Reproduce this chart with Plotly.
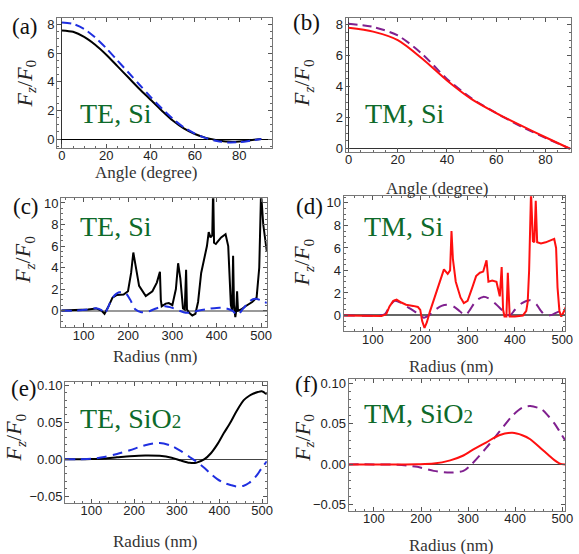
import plotly.graph_objects as go

W, H = 579, 554

# ---------------- data ----------------
angle = [0, 5, 10, 15, 20, 25, 30, 35, 40, 45, 50, 55, 60, 65, 70, 75, 80, 85, 90]
a_te_solid = [7.6, 7.5, 7.15, 6.6, 5.9, 5.1, 4.3, 3.5, 2.75, 2.0, 1.3, 0.75, 0.35, 0.08, -0.08, -0.18, -0.17, -0.08, 0.0]
a_te_dash = [8.15, 8.05, 7.7, 7.1, 6.35, 5.5, 4.65, 3.8, 2.95, 2.15, 1.42, 0.82, 0.38, 0.06, -0.14, -0.24, -0.22, -0.12, 0.0]

angle_b = [0, 10, 20, 30, 40, 50, 60, 70, 80, 90]
b_tm_solid = [7.8, 7.55, 7.0, 5.8, 4.4, 3.2, 2.3, 1.5, 0.74, 0.0]
b_tm_dash = [8.05, 7.85, 7.3, 6.1, 4.5, 3.25, 2.3, 1.45, 0.7, 0.0]

c_r_solid = [50, 80, 110, 128, 140, 147, 155, 165, 175, 190, 200, 207, 212, 217, 225, 240, 255, 265, 272, 274, 276,
             285, 292, 300, 308, 313, 318, 324, 328, 331, 333, 338, 345, 352, 358, 365, 372, 378, 382, 386, 390, 392,
             394, 398, 410, 420, 426, 430, 432, 435, 437, 439, 442, 444, 446, 448, 455, 465, 480, 490, 496, 500, 505, 513]
c_te_solid = [0, 0.02, 0.1, 0.2, 0.0, -0.3, 0.3, 1.2, 1.45, 1.5, 1.8, 3.5, 5.4, 4.2, 2.3, 1.35, 1.8, 2.6, 3.6, 1.0, 0.4,
              0.65, 0.7, 0.5, 2.0, 4.4, 3.0, 0.2, 0.1, 3.8, 0.1, -0.2, -0.45, -0.3, 0.8, 3.5, 4.8, 6.0, 7.3, 6.8, 7.0, 11.5,
              6.3, 6.2, 6.8, 7.1, 6.0, 3.0, 0.5, 0.0, 5.1, 0.5, -0.6, 0.0, 1.8, 0.0, 0.1, 0.4, 0.8, 1.2, 4.0, 11.0, 8.0, 5.5]
c_r_dash = [50, 80, 110, 128, 140, 147, 155, 165, 180, 195, 205, 217, 230, 245, 260, 283, 300, 315, 330, 345, 360,
            380, 400, 420, 435, 447, 460, 475, 487, 500, 513]
c_te_dash = [0, 0, 0.1, 0.22, 0.05, -0.3, 0.3, 1.2, 1.7, 1.6, 1.0, 0.1, -0.15, -0.1, 0.15, 0.4, 0.25, 0.0, -0.2, -0.15, 0.0,
             0.15, 0.25, 0.22, 0.0, -0.4, 0.2, 0.9, 1.1, 0.95, 0.7]

d_r_solid = [38, 100, 118, 128, 135, 143, 150, 160, 170, 185, 195, 200, 204, 209, 214, 220, 230, 240, 250, 258, 263, 266,
             269, 275, 285, 292, 300, 310, 318, 326, 333, 340, 344, 352, 361, 368, 372, 375, 378, 382, 385, 389, 400, 417,
             424, 427, 430, 434, 438, 441, 444, 447, 455, 465, 475, 483, 487, 490, 494, 498, 503, 508]
d_tm_solid = [0, 0, -0.05, 0.1, 0.8, 1.3, 1.4, 1.15, 0.95, 0.85, 0.75, 0.5, -0.5, -1.1, -0.6, 0.3, 1.6, 3.0, 4.1, 3.7, 4.0, 7.5,
              5.0, 3.0, 1.6, 1.1, 1.3, 2.5, 3.5, 3.8, 3.9, 4.9, 3.0, 3.1, 3.0, 1.7, 4.3, 0.5, -0.1, -0.1, 3.8, -0.1, -0.1, 0.0,
              0.4, 1.2, 4.0, 11.0, 6.6, 6.5, 10.2, 6.5, 6.4, 6.5, 6.7, 6.8, 6.0, 2.5, 0.4, -0.1, 0.3, 0.8]
d_r_dash = [38, 110, 125, 135, 146, 160, 175, 190, 200, 208, 218, 230, 245, 257, 270, 283, 295, 305, 318, 333, 345, 360,
            375, 389, 400, 415, 432, 445, 455, 465, 478, 490, 506]
d_tm_dash = [0, 0, 0.1, 0.8, 1.3, 1.1, 0.7, 0.3, 0.0, -0.2, 0.0, 0.45, 0.85, 0.95, 0.8, 0.4, 0.0, 0.5, 1.3, 1.65, 1.5, 1.0,
             0.4, 0.0, 0.5, 1.1, 1.35, 1.0, 0.4, 0.0, 0.05, 0.3, 0.45]

e_r = [38, 70, 100, 130, 160, 190, 226, 260, 288, 310, 330, 345, 365, 380, 395, 410, 426, 440, 457, 470, 480, 490, 499, 511]
e_te_solid = [0, 0, 0.0003, 0.001, 0.0025, 0.004, 0.005, 0.0045, 0.002, -0.002, -0.005, -0.005, 0.0, 0.008, 0.02, 0.035,
              0.05, 0.065, 0.08, 0.086, 0.089, 0.091, 0.092, 0.088]
e_te_dash = [0, 0, 0.0005, 0.003, 0.007, 0.012, 0.019, 0.022, 0.018, 0.011, 0.003, -0.003, -0.012, -0.02, -0.027, -0.032,
             -0.035, -0.037, -0.036, -0.032, -0.027, -0.02, -0.012, -0.003]

f_r = [46, 100, 150, 192, 227, 262, 290, 307, 338, 366, 394, 415, 432, 456, 470, 484, 495, 506]
f_tm_solid = [0, 0, 0, 0.0002, 0.001, 0.005, 0.011, 0.017, 0.027, 0.036, 0.039, 0.036, 0.031, 0.019, 0.012, 0.005, 0.001, 0.0]
f_tm_dash = [0, 0, -0.0005, -0.003, -0.008, -0.01, -0.008, 0.0, 0.02, 0.04, 0.06, 0.07, 0.072, 0.068, 0.06, 0.05, 0.04, 0.03]

x_ticks_angle = [0, 20, 40, 60, 80]
x_ticks_radius = [100, 200, 300, 400, 500]

# ---------------- styling ----------------
BLACK = "#000000"
BLUE = "#1f2fe0"
RED = "#ff1010"
PURPLE = "#80208f"
GREEN = "#0e6a2a"
SERIF = "Liberation Serif"
SANS = "Liberation Sans"


def px_dom_x(a, b):
    return [a / W, min(b / W, 1.0)]


def px_dom_y(top, bottom):
    return [1 - bottom / H, 1 - top / H]


fig = go.Figure()

panels = [
    dict(x=(57, 275), y=(14, 146), xr=[-2.2, 94.7], yr=[-0.62, 8.48], xt=x_ticks_angle, xm=5, yd=2, ym=0.5,
         yf="", zc="#000000", zw=1, xz=True),
    dict(x=(350, 579), y=(14, 150), xr=[-1.2, 90.4], yr=[-0.2, 8.44], xt=x_ticks_angle, xm=5, yd=2, ym=0.5,
         yf="", zc="#333333", zw=1, xz=True),
    dict(x=(61, 270), y=(197, 328), xr=[49, 513], yr=[-1.55, 10.45], xt=x_ticks_radius, xm=20, yd=2, ym=0.5,
         yf="", zc="#999999", zw=2, xz=False),
    dict(x=(348, 573), y=(195, 332), xr=[38, 506], yr=[-1.4, 10.6], xt=x_ticks_radius, xm=20, yd=2, ym=0.5,
         yf="", zc="#666666", zw=2, xz=False),
    dict(x=(65, 270), y=(384, 506), xr=[38, 511], yr=[-0.059, 0.104], xt=x_ticks_radius, xm=20, yd=0.05, ym=0.01,
         yf=".2f", zc="#444444", zw=1, xz=False),
    dict(x=(353, 573), y=(380, 514), xr=[46, 506], yr=[-0.057, 0.106], xt=x_ticks_radius, xm=20, yd=0.05, ym=0.01,
         yf=".2f", zc="#444444", zw=1, xz=False),
]

layout = {}
for i, p in enumerate(panels):
    k = "" if i == 0 else str(i + 1)
    layout["xaxis" + k] = dict(
        domain=px_dom_x(*p["x"]), range=p["xr"], anchor="y" + k,
        tickmode="array", tickvals=p["xt"], ticks="inside", ticklen=4, tickcolor="#555",
        showline=True, linecolor="#777", linewidth=1, mirror="allticks",
        showgrid=False, zeroline=p["xz"], zerolinecolor="#333", zerolinewidth=1,
        tickfont=dict(family=SANS, size=13, color="#222"), ticklabelstandoff=-4,
        minor=dict(ticks="inside", ticklen=2, dtick=p["xm"], tickcolor="#666", showgrid=False),
    )
    layout["yaxis" + k] = dict(
        domain=px_dom_y(*p["y"]), range=p["yr"], anchor="x" + k,
        dtick=p["yd"], tick0=0, ticks="inside", ticklen=4, tickcolor="#555",
        showline=True, linecolor="#777", linewidth=1, mirror="allticks",
        showgrid=False, zeroline=True, zerolinecolor=p["zc"], zerolinewidth=p["zw"],
        tickformat=p["yf"], tickfont=dict(family=SANS, size=13, color="#222"), ticklabelstandoff=-1,
        minor=dict(ticks="inside", ticklen=2, dtick=p["ym"], tickcolor="#666", showgrid=False),
    )


def add(x, y, color, dash, k, shape="linear"):
    fig.add_trace(go.Scatter(
        x=x, y=y, mode="lines", xaxis="x" + k, yaxis="y" + k, showlegend=False,
        line=dict(color=color, width=2, dash=dash, shape=shape, smoothing=0.8)))


add(angle, a_te_solid, BLACK, "solid", "", "spline")
add(angle, a_te_dash, BLUE, "9px,5px", "", "spline")
add(angle_b, b_tm_dash, PURPLE, "9px,5px", "2", "spline")
add(angle_b, b_tm_solid, RED, "solid", "2", "spline")
add(c_r_solid, c_te_solid, BLACK, "solid", "3")
add(c_r_dash, c_te_dash, BLUE, "10px,6px", "3", "spline")
add(d_r_dash, d_tm_dash, PURPLE, "11px,7px", "4", "spline")
add(d_r_solid, d_tm_solid, RED, "solid", "4")
add(e_r, e_te_solid, BLACK, "solid", "5", "spline")
add(e_r, e_te_dash, BLUE, "10px,6px", "5", "spline")
add(f_r, f_tm_dash, PURPLE, "10px,6px", "6", "spline")
add(f_r, f_tm_solid, RED, "solid", "6", "spline")

ann = []


def text(x, y, s, size, color="#111", xanchor="center", angle=0, family=SERIF):
    ann.append(dict(x=x / W, y=1 - y / H, xref="paper", yref="paper", text=s, showarrow=False,
                    xanchor=xanchor, yanchor="middle", textangle=angle,
                    font=dict(family=family, size=size, color=color)))


# panel letters
for s, x, y in [("(a)", 24, 23), ("(b)", 310, 19), ("(c)", 25, 205), ("(d)", 313, 205), ("(e)", 23, 390), ("(f)", 310, 386)]:
    text(x, y, s, 23)

# labels inside panels
sub2 = '<span style="font-size:19px">2</span>'
for s, x, y in [("TE, Si", 78, 111), ("TM, Si", 368, 111), ("TE, Si", 78, 226), ("TM, Si", 367, 226),
                ("TE, SiO" + sub2, 78, 421), ("TM, SiO" + sub2, 367, 415)]:
    text(x, y, s, 28, color=GREEN, xanchor="left")

# x titles
for s, x, y in [("Angle (degree)", 147, 171), ("Angle (degree)", 443, 187), ("Radius (nm)", 157, 358),
                ("Radius (nm)", 458, 368), ("Radius (nm)", 157, 545), ("Radius (nm)", 458, 549)]:
    text(x, y, s, 17, color="#333")

# y titles
ytitle = "<i>F<sub>z</sub></i>/<i>F</i><sub>0</sub>"
for x, y in [(25, 81), (307, 80), (24, 260), (307, 262), (14, 440), (307, 440)]:
    text(x, y, ytitle, 22, color="#222", angle=-90)

fig.update_layout(**layout)
fig.update_layout(width=W, height=H, margin=dict(l=0, r=0, t=0, b=0), paper_bgcolor="white",
                  plot_bgcolor="white", annotations=ann)

fig.write_html("out.html", config={"displayModeBar": False},
               post_script="document.body.style.margin='0';")
